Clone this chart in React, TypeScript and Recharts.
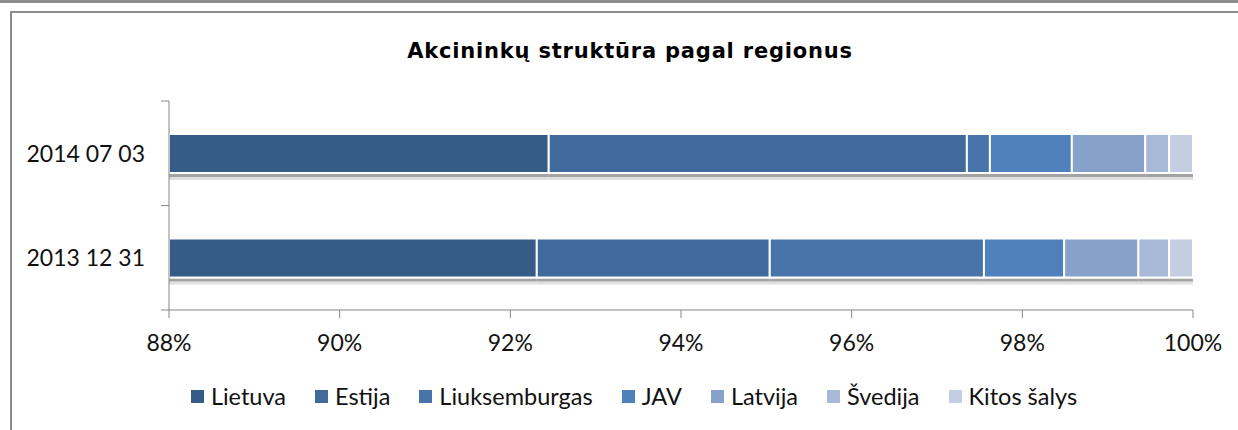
import React from 'react';
import { BarChart, Bar, XAxis, YAxis, Legend } from 'recharts';

const categories = ['2014 07 03', '2013 12 31'];
const seriesNames = ['Lietuva', 'Estija', 'Liuksemburgas', 'JAV', 'Latvija', 'Švedija', 'Kitos šalys'];
const seriesColors = ['#365B87', '#3F6A9B', '#4874AA', '#4F81BD', '#87A1CA', '#A8B9D8', '#C3CEE2'];

const lietuva = [92.45, 92.31];
const estija = [4.9, 2.73];
const liuksemburgas = [0.27, 2.51];
const jav = [0.96, 0.94];
const latvija = [0.86, 0.87];
const svedija = [0.28, 0.36];
const kitos = [0.28, 0.28];

const xTicks = [88, 90, 92, 94, 96, 98, 100];
const title = 'Akcininkų struktūra pagal regionus';

const seriesValues = [lietuva, estija, liuksemburgas, jav, latvija, svedija, kitos];
const data = categories.map((name, i) => {
  const row: any = { name };
  seriesValues.forEach((vals, j) => {
    row['s' + j] = vals[i];
  });
  return row;
});

const AXIS = '#868686';
const FONT = 'Lato, "Open Sans", sans-serif';

const BarShape = (props: any) => {
  const { x, y, width, height, fill } = props;
  if (width == null || height == null) return null;
  return (
    <g>
      <rect x={x} y={y + height + 1} width={width} height={3} fill="#8c8c8c" fillOpacity={0.8} />
      <rect x={x} y={y + height + 4} width={width} height={3} fill="#b8b8b8" fillOpacity={0.45} />
      <rect x={x} y={y} width={width} height={height} fill={fill} stroke="#ffffff" strokeWidth={2} />
    </g>
  );
};

const YTick = (props: any) => {
  const { x, y, payload, index, visibleTicksCount } = props;
  const axisX = x + 24;
  const half = payload && payload.offset ? payload.offset : 0;
  return (
    <g>
      <line x1={axisX - 8} x2={axisX} y1={y - half} y2={y - half} stroke={AXIS} strokeWidth={1} />
      {index === visibleTicksCount - 1 ? (
        <line x1={axisX - 8} x2={axisX} y1={y + half} y2={y + half} stroke={AXIS} strokeWidth={1} />
      ) : null}
      <text x={x} y={y} dy="0.36em" textAnchor="end" fontFamily={FONT} fontSize={23} fill="#111">
        {payload.value}
      </text>
    </g>
  );
};

const LegendContent = (props: any) => {
  const items = [...(props.payload || [])].sort(
    (a: any, b: any) => seriesNames.indexOf(a.value) - seriesNames.indexOf(b.value)
  );
  return (
    <div
      style={{
        display: 'flex',
        justifyContent: 'center',
        alignItems: 'center',
        marginLeft: 30,
        height: 25,
        fontFamily: FONT,
        fontSize: 23.5,
        color: '#111',
      }}
    >
      {items.map((entry: any, i: number) => (
        <div
          key={i}
          style={{ display: 'flex', alignItems: 'center', marginRight: i === items.length - 1 ? 0 : 29 }}
        >
          <span
            style={{ display: 'inline-block', width: 13, height: 13, background: entry.color, marginRight: 7 }}
          />
          <span style={{ lineHeight: '25px' }}>{entry.value}</span>
        </div>
      ))}
    </div>
  );
};

export default function App() {
  return (
    <div
      style={{
        position: 'absolute',
        left: 0,
        top: 0,
        width: 1238,
        height: 430,
        background: '#fff',
        overflow: 'hidden',
      }}
    >
      <div style={{ position: 'absolute', left: 0, top: 0, width: 1238, height: 3, background: '#8c8c8c' }} />
      <div
        style={{
          position: 'absolute',
          left: 10,
          top: 11,
          width: 1238,
          height: 430,
          borderTop: '2px solid #8c8c8c',
          borderLeft: '2px solid #8c8c8c',
          boxSizing: 'border-box',
        }}
      />
      <div
        style={{
          position: 'absolute',
          left: 0,
          top: 39,
          width: 1260,
          textAlign: 'center',
          fontFamily: '"DejaVu Sans", sans-serif',
          fontWeight: 'bold',
          fontSize: 21,
          letterSpacing: 0.8,
          lineHeight: '25px',
          color: '#000',
        }}
      >
        {title}
      </div>
      <div style={{ position: 'absolute', left: 0, top: 0 }}>
        <BarChart
          width={1238}
          height={430}
          data={data}
          layout="vertical"
          margin={{ top: 101, right: 45, bottom: 35, left: 0 }}
        >
          <XAxis
            type="number"
            domain={[88, 100]}
            ticks={xTicks}
            interval={0}
            allowDataOverflow
            tickFormatter={(v: number) => `${v}%`}
            axisLine={{ stroke: AXIS }}
            tickLine={{ stroke: AXIS }}
            tickSize={8}
            tickMargin={17}
            height={60}
            tick={{ fontFamily: FONT, fontSize: 23, fill: '#111' }}
          />
          <YAxis
            type="category"
            dataKey="name"
            width={169}
            axisLine={{ stroke: AXIS }}
            tickLine={false}
            tickSize={8}
            tickMargin={16}
            tick={<YTick />}
            interval={0}
          />
          <Legend
            verticalAlign="bottom"
            itemSorter={(item: any) => seriesNames.indexOf(item.value)}
            content={<LegendContent />}
            wrapperStyle={{ left: 0, width: 1238, top: 384, bottom: 'auto', height: 25 }}
          />
          {seriesNames.map((s, j) => (
            <Bar
              key={s}
              dataKey={'s' + j}
              name={s}
              stackId="a"
              fill={seriesColors[j]}
              barSize={39}
              isAnimationActive={false}
              shape={<BarShape />}
            />
          ))}
        </BarChart>
      </div>
    </div>
  );
}
